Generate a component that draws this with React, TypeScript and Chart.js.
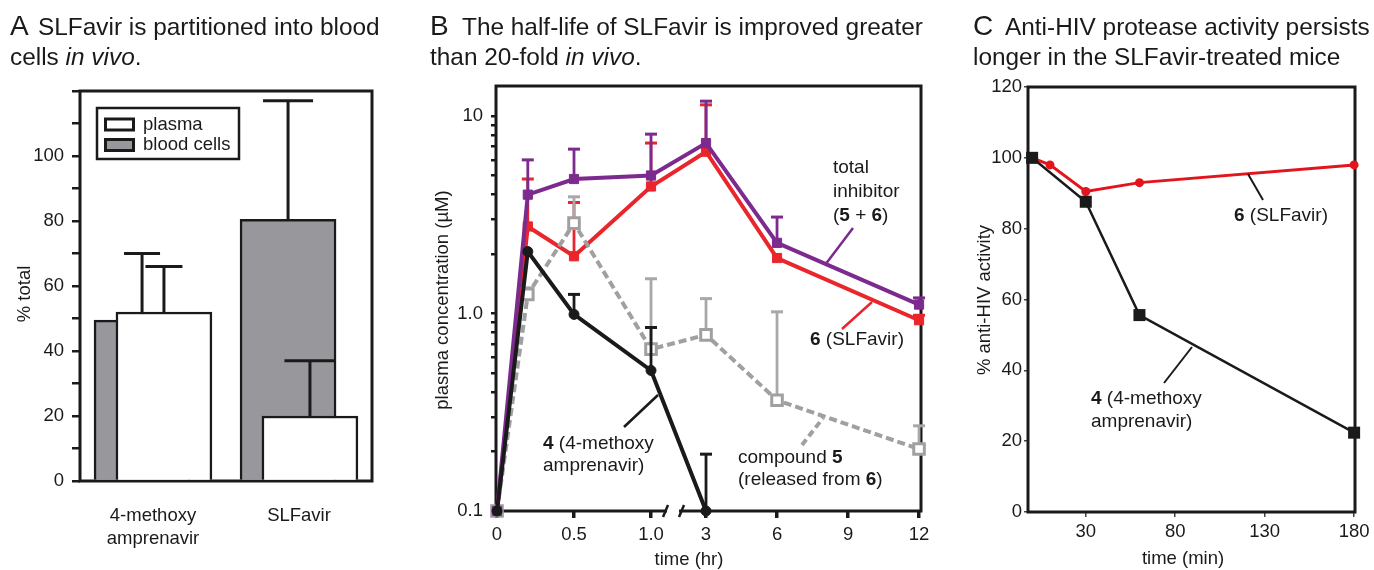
import React, { useEffect, useRef } from 'react';
import { Chart, registerables } from 'chart.js';

Chart.register(...registerables);

const FONT = '"Liberation Sans", Arial, Helvetica, sans-serif';
const INK = '#1a1a1a';

// ---------------- Panel A data ----------------
const aCategories = [['4-methoxy', 'amprenavir'], ['SLFavir']];
const aPlasma = [52, 20];
const aPlasmaErr = [66, 37];
const aBloodCells = [49.5, 80.5];
const aBloodCellsErr = [70, 117];
const aYTicks = [0, 10, 20, 30, 40, 50, 60, 70, 80, 90, 100, 110, 120];
const aYLabels = ['0', '', '20', '', '40', '', '60', '', '80', '', '100', '', ''];

// ---------------- Panel B data ----------------
const bTimes = [0, 0.2, 0.5, 1, 3, 6, 12];
const bTotal = [0.1, 4.0, 4.8, 5.0, 7.3, 2.28, 1.11];
const bTotalErr = [null, 6.0, 6.8, 8.1, 11.9, 3.08, 1.2];
const bSLFavir = [0.1, 2.76, 1.95, 4.4, 6.6, 1.91, 0.925];
const bSLFavirErr = [null, 4.8, 3.65, 7.3, 11.4, null, 0.98];
const bCompound5 = [0.1, 1.25, 2.87, 0.66, 0.78, 0.364, 0.206];
const bCompound5Err = [null, 1.35, 3.9, 1.5, 1.19, 1.02, 0.27];
const bMethoxyTimes = [0, 0.2, 0.5, 1, 3];
const bMethoxy = [0.1, 2.06, 0.99, 0.515, 0.1];
const bMethoxyErr = [null, null, 1.25, 0.85, 0.194];
const bXTicks = [0, 0.5, 1, 3, 6, 9, 12];
const bXLabels = ['0', '0.5', '1.0', '3', '6', '9', '12'];
const bYTicks = [0.1, 0.2, 0.3, 0.4, 0.5, 0.6, 0.7, 0.8, 0.9, 1, 2, 3, 4, 5, 6, 7, 8, 9, 10];
const bYLabels = ['0.1', '', '', '', '', '', '', '', '', '1.0', '', '', '', '', '', '', '', '', '10'];

// ---------------- Panel C data ----------------
const cSLFavirTimes = [0, 10, 30, 60, 180];
const cSLFavir = [100, 98, 90.5, 93, 98];
const cMethoxyTimes = [0, 30, 60, 180];
const cMethoxy = [100, 87.6, 55.6, 22.4];
const cXTicks = [30, 80, 130, 180];
const cYTicks = [0, 20, 40, 60, 80, 100, 120];

// broken time axis of panel B: 0–1 h expanded, 3–12 h compressed
const bAxisPos = (t: number) => (t <= 1 ? 2 * t : 2 + 55 / 77 + ((t - 3) * 71) / 231);

// ---------------- drawing helpers ----------------
type Run = { t: string; b?: boolean; i?: boolean };
function drawRuns(ctx: CanvasRenderingContext2D, runs: Run[], x: number, y: number, size: number, baseline: CanvasTextBaseline = 'middle') {
  ctx.save();
  ctx.fillStyle = INK;
  ctx.textBaseline = baseline;
  ctx.textAlign = 'left';
  let cx = x;
  for (const r of runs) {
    ctx.font = `${r.i ? 'italic ' : ''}${r.b ? 'bold ' : ''}${size}px ${FONT}`;
    ctx.fillText(r.t, cx, y);
    cx += ctx.measureText(r.t).width;
  }
  ctx.restore();
}
function drawCentered(ctx: CanvasRenderingContext2D, text: string, x: number, y: number, size: number, rotate = false) {
  ctx.save();
  ctx.translate(x, y);
  if (rotate) ctx.rotate(-Math.PI / 2);
  ctx.fillStyle = INK;
  ctx.font = `${size}px ${FONT}`;
  ctx.textAlign = 'center';
  ctx.textBaseline = 'middle';
  ctx.fillText(text, 0, 0);
  ctx.restore();
}
function drawSeg(ctx: CanvasRenderingContext2D, x1: number, y1: number, x2: number, y2: number, color: string, width: number, dash: number[] = []) {
  ctx.save();
  ctx.strokeStyle = color;
  ctx.lineWidth = width;
  ctx.setLineDash(dash);
  ctx.beginPath();
  ctx.moveTo(x1, y1);
  ctx.lineTo(x2, y2);
  ctx.stroke();
  ctx.restore();
}

// ---------------- plugins ----------------
function drawErrors(chart: any, index: number, opts: any) {
  const ds: any = chart.data.datasets[index];
  if (!ds.errors) return;
  const meta = chart.getDatasetMeta(index);
  const yScale = chart.scales[meta.yAxisID];
  const ctx = chart.ctx;
  ctx.save();
  ctx.strokeStyle = ds.errorColor;
  ds.errors.forEach((e: number | null, i: number) => {
    if (e == null) return;
    const el = meta.data[i];
    const x = el.x;
    const y0 = el.y;
    const y1 = yScale.getPixelForValue(e);
    const cw = Array.isArray(ds.capWidth) ? ds.capWidth[i] : ds.capWidth;
    ctx.lineWidth = opts.lineWidth;
    ctx.beginPath();
    ctx.moveTo(x, y0);
    ctx.lineTo(x, y1);
    ctx.stroke();
    ctx.lineWidth = opts.capLineWidth;
    ctx.beginPath();
    ctx.moveTo(x - cw / 2, y1);
    ctx.lineTo(x + cw / 2, y1);
    ctx.stroke();
  });
  ctx.restore();
}
const errorBarPlugin = {
  id: 'errorBars',
  beforeDatasetDraw(chart: any, args: any, opts: any) {
    if (!opts.after) drawErrors(chart, args.index, opts);
  },
  afterDatasetDraw(chart: any, args: any, opts: any) {
    if (opts.after) drawErrors(chart, args.index, opts);
  },
};
const framePlugin = {
  id: 'frame',
  beforeDatasetsDraw(chart: any) {
    const { left, top, right, bottom } = chart.chartArea;
    const ctx = chart.ctx;
    ctx.save();
    ctx.strokeStyle = INK;
    ctx.lineWidth = 3;
    ctx.strokeRect(left, top, right - left, bottom - top);
    ctx.restore();
  },
};

const TITLE = 24.4;

const panelAPlugin = {
  id: 'panelA',
  afterDraw(chart: any) {
    const ctx = chart.ctx as CanvasRenderingContext2D;
    drawRuns(ctx, [{ t: 'A' }], 10, 35, 28, 'alphabetic');
    drawRuns(ctx, [{ t: 'SLFavir is partitioned into blood' }], 38, 35, TITLE, 'alphabetic');
    drawRuns(ctx, [{ t: 'cells ' }, { t: 'in vivo', i: true }, { t: '.' }], 10, 65, TITLE, 'alphabetic');
    drawCentered(ctx, '% total', 25, 294, 18.5, true);
    // legend
    ctx.save();
    ctx.strokeStyle = INK;
    ctx.lineWidth = 2.5;
    ctx.fillStyle = '#fff';
    ctx.fillRect(97, 108, 142, 51);
    ctx.strokeRect(97, 108, 142, 51);
    ctx.lineWidth = 3;
    ctx.fillStyle = '#fff';
    ctx.fillRect(105.5, 119, 28, 11);
    ctx.strokeRect(105.5, 119, 28, 11);
    ctx.fillStyle = '#98989c';
    ctx.fillRect(105.5, 139.5, 28, 11);
    ctx.strokeRect(105.5, 139.5, 28, 11);
    ctx.restore();
    drawRuns(ctx, [{ t: 'plasma' }], 143, 125, 18.5);
    drawRuns(ctx, [{ t: 'blood cells' }], 143, 145, 18.5);
  },
};

const PURPLE = '#7d2a8f';
const RED = '#e8262c';
const GRAY = '#a0a0a0';
const ERRGRAY = '#a8a8a8';

const panelBPlugin = {
  id: 'panelB',
  afterDraw(chart: any) {
    const ctx = chart.ctx as CanvasRenderingContext2D;
    const O = 400;
    drawRuns(ctx, [{ t: 'B' }], 430 - O, 35, 28, 'alphabetic');
    drawRuns(ctx, [{ t: 'The half-life of SLFavir is improved greater' }], 462 - O, 35, TITLE, 'alphabetic');
    drawRuns(ctx, [{ t: 'than 20-fold ' }, { t: 'in vivo', i: true }, { t: '.' }], 430 - O, 65, TITLE, 'alphabetic');
    drawCentered(ctx, 'plasma concentration (\u00b5M)', 443 - O, 300, 18.5, true);
    drawCentered(ctx, 'time (hr)', 689 - O, 560, 18.5);
    // axis break
    const xs = chart.scales.x;
    const bottom = chart.chartArea.bottom;
    const xc = xs.getPixelForValue(bAxisPos(1)) + 22;
    ctx.save();
    ctx.fillStyle = '#fff';
    ctx.fillRect(xc - 6, bottom - 3, 12, 6);
    ctx.restore();
    drawSeg(ctx, xc - 10, bottom + 6, xc - 5, bottom - 6, INK, 2.5);
    drawSeg(ctx, xc + 6, bottom + 6, xc + 11, bottom - 6, INK, 2.5);
    // annotations
    drawRuns(ctx, [{ t: 'total' }], 833 - O, 168, 19);
    drawRuns(ctx, [{ t: 'inhibitor' }], 833 - O, 192, 19);
    drawRuns(ctx, [{ t: '(' }, { t: '5', b: true }, { t: ' + ' }, { t: '6', b: true }, { t: ')' }], 833 - O, 216, 19);
    drawSeg(ctx, 853 - O, 228, 825 - O, 265, PURPLE, 2.5);
    drawRuns(ctx, [{ t: '6', b: true }, { t: ' (SLFavir)' }], 810 - O, 340, 19);
    drawSeg(ctx, 842 - O, 329, 872 - O, 302, RED, 2.5);
    drawRuns(ctx, [{ t: '4', b: true }, { t: ' (4-methoxy' }], 543 - O, 444, 19);
    drawRuns(ctx, [{ t: 'amprenavir)' }], 543 - O, 466, 19);
    drawSeg(ctx, 624 - O, 427, 658 - O, 395, INK, 2.5);
    drawRuns(ctx, [{ t: 'compound ' }, { t: '5', b: true }], 738 - O, 458, 19);
    drawRuns(ctx, [{ t: '(released from ' }, { t: '6', b: true }, { t: ')' }], 738 - O, 480, 19);
    drawSeg(ctx, 802 - O, 445, 823 - O, 418, GRAY, 4, [7, 4]);
  },
};

const panelCPlugin = {
  id: 'panelC',
  afterDraw(chart: any) {
    const ctx = chart.ctx as CanvasRenderingContext2D;
    const O = 960;
    drawRuns(ctx, [{ t: 'C' }], 973 - O, 35, 28, 'alphabetic');
    drawRuns(ctx, [{ t: 'Anti-HIV protease activity persists' }], 1005 - O, 35, TITLE, 'alphabetic');
    drawRuns(ctx, [{ t: 'longer in the SLFavir-treated mice' }], 973 - O, 65, TITLE, 'alphabetic');
    drawCentered(ctx, '% anti-HIV activity', 985 - O, 300, 18.5, true);
    drawCentered(ctx, 'time (min)', 1183 - O, 559, 18.5);
    drawRuns(ctx, [{ t: '6', b: true }, { t: ' (SLFavir)' }], 1234 - O, 216, 19);
    drawSeg(ctx, 1248 - O, 174, 1263 - O, 200, INK, 2);
    drawRuns(ctx, [{ t: '4', b: true }, { t: ' (4-methoxy' }], 1091 - O, 399, 19);
    drawRuns(ctx, [{ t: 'amprenavir)' }], 1091 - O, 422, 19);
    drawSeg(ctx, 1164 - O, 383, 1192 - O, 347, INK, 2);
  },
};

const tickFont = { family: FONT, size: 18.5 };

// ---------------- configs ----------------
const BAR_SHIFT = 0.075;

function configA(): any {
  return {
    type: 'bar',
    data: {
      datasets: [
        {
          label: 'plasma',
          data: aPlasma.map((v, i) => ({ x: i + 1 + BAR_SHIFT, y: v })),
          backgroundColor: '#ffffff',
          borderColor: INK,
          borderWidth: 2.5,
          barThickness: 96,
          grouped: false,
          order: 0,
          errors: aPlasmaErr,
          errorColor: INK,
          capWidth: [37, 51],
        },
        {
          label: 'blood cells',
          data: aBloodCells.map((v, i) => ({ x: i + 1 - BAR_SHIFT, y: v })),
          backgroundColor: '#98989c',
          borderColor: INK,
          borderWidth: 2.5,
          barThickness: 96,
          grouped: false,
          order: 1,
          errors: aBloodCellsErr,
          errorColor: INK,
          capWidth: [36, 50],
        },
      ],
    },
    options: {
      responsive: false,
      animation: false,
      events: [],
      layout: { padding: { top: 91, right: 28, left: 0, bottom: 0 } },
      plugins: {
        legend: { display: false },
        tooltip: { enabled: false },
        errorBars: { after: true, lineWidth: 3, capLineWidth: 3 },
      },
      scales: {
        x: {
          type: 'linear',
          min: 0.5,
          max: 2.5,
          offset: false,
          afterBuildTicks: (s: any) => {
            s.ticks = aCategories.map((_, i) => ({ value: i + 1 }));
          },
          afterFit: (s: any) => {
            s.height = 89;
          },
          grid: { display: false, offset: false },
          border: { display: false },
          ticks: {
            autoSkip: false,
            maxRotation: 0,
            padding: 15,
            color: INK,
            font: { ...tickFont, lineHeight: 1.25 },
            callback: (_v: any, i: number) => aCategories[i],
          },
        },
        y: {
          type: 'linear',
          min: 0,
          max: 120,
          afterBuildTicks: (s: any) => {
            s.ticks = aYTicks.map((v) => ({ value: v }));
          },
          afterFit: (s: any) => {
            s.width = 80;
          },
          grid: { drawOnChartArea: false, drawTicks: true, tickLength: 8, lineWidth: 2.5, color: INK },
          border: { display: false },
          ticks: { autoSkip: false, padding: 8, color: INK, font: tickFont, callback: (_v: any, i: number) => aYLabels[i] },
        },
      },
    },
    plugins: [framePlugin, errorBarPlugin, panelAPlugin],
  };
}

function lineSeries(label: string, times: number[], values: number[], extra: any) {
  return {
    label,
    data: values.map((v, i) => ({ x: bAxisPos(times[i]), y: v })),
    clip: false,
    tension: 0,
    ...extra,
  };
}

function configB(): any {
  return {
    type: 'line',
    data: {
      datasets: [
        lineSeries('4 (4-methoxy amprenavir)', bMethoxyTimes, bMethoxy, {
          order: 0,
          borderColor: INK,
          borderWidth: 4,
          pointStyle: 'circle',
          pointRadius: 5,
          pointBackgroundColor: INK,
          pointBorderColor: INK,
          pointBorderWidth: 1,
          errors: bMethoxyErr,
          errorColor: INK,
          capWidth: 12,
        }),
        lineSeries('total inhibitor (5 + 6)', bTimes, bTotal, {
          order: 1,
          borderColor: PURPLE,
          borderWidth: 4,
          pointStyle: 'rect',
          pointRadius: 6.5,
          pointBackgroundColor: PURPLE,
          pointBorderColor: PURPLE,
          pointBorderWidth: 1,
          errors: bTotalErr,
          errorColor: PURPLE,
          capWidth: 12,
        }),
        lineSeries('compound 5 (released from 6)', bTimes, bCompound5, {
          order: 2,
          borderColor: GRAY,
          borderWidth: 4,
          borderDash: [8, 4],
          pointStyle: 'rect',
          pointRadius: 7.5,
          pointBackgroundColor: '#ffffff',
          pointBorderColor: GRAY,
          pointBorderWidth: 3,
          errors: bCompound5Err,
          errorColor: ERRGRAY,
          capWidth: 12,
        }),
        lineSeries('6 (SLFavir)', bTimes, bSLFavir, {
          order: 3,
          borderColor: RED,
          borderWidth: 4,
          pointStyle: 'rect',
          pointRadius: 6.5,
          pointBackgroundColor: RED,
          pointBorderColor: RED,
          pointBorderWidth: 1,
          errors: bSLFavirErr,
          errorColor: RED,
          capWidth: 12,
        }),
      ],
    },
    options: {
      responsive: false,
      animation: false,
      events: [],
      layout: { padding: { top: 86, right: 39, left: 0, bottom: 0 } },
      plugins: {
        legend: { display: false },
        tooltip: { enabled: false },
        errorBars: { after: false, lineWidth: 2.8, capLineWidth: 3 },
      },
      scales: {
        x: {
          type: 'linear',
          min: -0.013,
          max: 5.506,
          afterBuildTicks: (s: any) => {
            s.ticks = bXTicks.map((t) => ({ value: bAxisPos(t) }));
          },
          afterFit: (s: any) => {
            s.height = 59;
          },
          grid: { drawOnChartArea: false, drawTicks: true, tickLength: 7, lineWidth: 3.5, color: INK },
          border: { display: false },
          ticks: { autoSkip: false, maxRotation: 0, padding: 6, color: INK, font: tickFont, callback: (_v: any, i: number) => bXLabels[i] },
        },
        y: {
          type: 'logarithmic',
          min: 0.1,
          max: 14.2,
          afterBuildTicks: (s: any) => {
            s.ticks = bYTicks.map((v) => ({ value: v }));
          },
          afterFit: (s: any) => {
            s.width = 96;
          },
          grid: { drawOnChartArea: false, drawTicks: true, tickLength: 5, lineWidth: 2.5, color: INK },
          border: { display: false },
          ticks: { autoSkip: false, padding: 8, color: INK, font: tickFont, callback: (_v: any, i: number) => bYLabels[i] },
        },
      },
    },
    plugins: [framePlugin, errorBarPlugin, panelBPlugin],
  };
}

function configC(): any {
  return {
    type: 'line',
    data: {
      datasets: [
        {
          label: '4 (4-methoxy amprenavir)',
          data: cMethoxy.map((v, i) => ({ x: cMethoxyTimes[i], y: v })),
          order: 0,
          clip: false,
          borderColor: INK,
          borderWidth: 2.5,
          pointStyle: 'rect',
          pointRadius: 8.5,
          pointBackgroundColor: INK,
          pointBorderColor: INK,
          pointBorderWidth: 0,
        },
        {
          label: '6 (SLFavir)',
          data: cSLFavir.map((v, i) => ({ x: cSLFavirTimes[i], y: v })),
          order: 1,
          clip: false,
          borderColor: '#e3141b',
          borderWidth: 3,
          pointStyle: 'circle',
          pointRadius: 4.5,
          pointBackgroundColor: '#e3141b',
          pointBorderColor: '#e3141b',
          pointBorderWidth: 0,
        },
      ],
    },
    options: {
      responsive: false,
      animation: false,
      events: [],
      layout: { padding: { top: 87, right: 19, left: 0, bottom: 0 } },
      plugins: { legend: { display: false }, tooltip: { enabled: false } },
      scales: {
        x: {
          type: 'linear',
          min: -2.3,
          max: 180.5,
          afterBuildTicks: (s: any) => {
            s.ticks = cXTicks.map((v) => ({ value: v }));
          },
          afterFit: (s: any) => {
            s.height = 58;
          },
          grid: { drawOnChartArea: false, drawTicks: true, tickLength: 5, lineWidth: 1.5, color: '#444' },
          border: { display: false },
          ticks: { autoSkip: false, maxRotation: 0, padding: 4, color: INK, font: tickFont, callback: (v: any) => String(v) },
        },
        y: {
          type: 'linear',
          min: 0,
          max: 120,
          afterBuildTicks: (s: any) => {
            s.ticks = cYTicks.map((v) => ({ value: v }));
          },
          afterFit: (s: any) => {
            s.width = 68;
          },
          grid: { drawOnChartArea: false, drawTicks: true, tickLength: 4, lineWidth: 1.5, color: '#444' },
          border: { display: false },
          ticks: { autoSkip: false, padding: 2, color: INK, font: tickFont, callback: (v: any) => String(v) },
        },
      },
    },
    plugins: [framePlugin, panelCPlugin],
  };
}

function Panel({ left, width, makeConfig }: { left: number; width: number; makeConfig: () => any }) {
  const ref = useRef<HTMLCanvasElement>(null);
  useEffect(() => {
    const chart = new Chart(ref.current as HTMLCanvasElement, makeConfig());
    return () => chart.destroy();
  }, [makeConfig]);
  return (
    <canvas
      ref={ref}
      width={width}
      height={570}
      style={{ position: 'absolute', left, top: 0, width, height: 570, display: 'block' }}
    />
  );
}

export default function App() {
  return (
    <div style={{ position: 'absolute', left: 0, top: 0, width: 1374, height: 570, background: '#ffffff', overflow: 'hidden' }}>
      <Panel left={0} width={400} makeConfig={configA} />
      <Panel left={400} width={560} makeConfig={configB} />
      <Panel left={960} width={414} makeConfig={configC} />
    </div>
  );
}
